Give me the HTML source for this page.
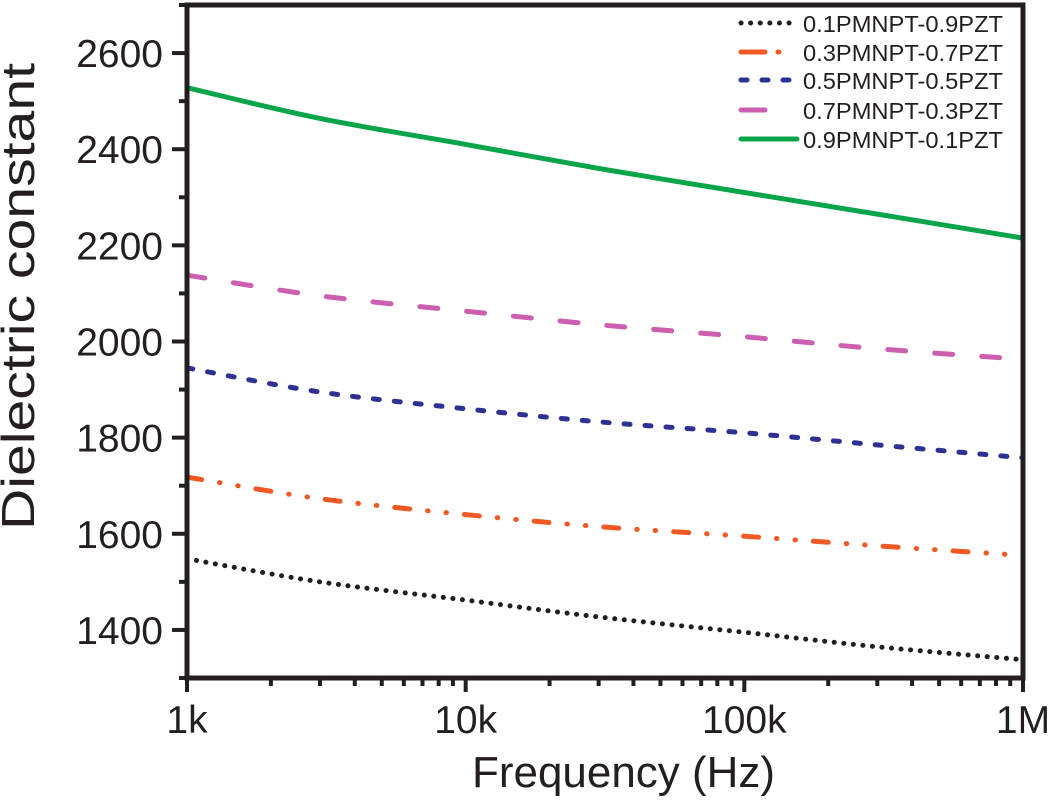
<!DOCTYPE html>
<html><head><meta charset="utf-8"><style>
body{margin:0;background:#fff;}
svg{display:block;font-family:"Liberation Sans",Arial,sans-serif;}
</style></head><body>
<svg id="chart" width="1050" height="803"></svg>
<script>
const freqs=[1e3,3e3,1e4,3e4,1e5,3e5,1e6];
const seriesNames=["0.1PMNPT-0.9PZT","0.3PMNPT-0.7PZT","0.5PMNPT-0.5PZT","0.7PMNPT-0.3PZT","0.9PMNPT-0.1PZT"];
const s01=[1548,1500,1462,1427,1395,1365,1338];
const s03=[1718,1673,1640,1615,1595,1575,1555];
const s05=[1945,1895,1860,1833,1810,1785,1758];
const s07=[2138,2095,2063,2035,2010,1985,1963];
const s09=[2528,2464,2410,2360,2310,2265,2215];
const yTicks=[1400,1600,1800,2000,2200,2400,2600];
const xTicks=[1e3,1e4,1e5,1e6];
const xTickLabels=["1k","10k","100k","1M"];

const NS="http://www.w3.org/2000/svg";
const svg=document.getElementById('chart');
const L=187,R=1023,T=5,B=678,yMin=1300,yMax=2700;
const xs=v=>L+(Math.log10(v)-3)/3*(R-L);
const ys=v=>B-(v-yMin)/(yMax-yMin)*(B-T);
function mk(tag,attrs,parent){const e=document.createElementNS(NS,tag);for(const k in attrs)e.setAttribute(k,attrs[k]);(parent||svg).appendChild(e);return e;}

const styles=[
 {c:"#231f20",d:"0.1 9.5"},
 {c:"#f15a24",d:"15 18 0.5 18 0.5 18"},
 {c:"#2e3192",d:"6 15"},
 {c:"#cc5fb0",d:"18 29"},
 {c:"#0aa54b",d:""}];
const all=[s01,s03,s05,s07,s09];

// series
all.forEach((s,i)=>{
  const st=styles[i];
  const P=freqs.map((f,j)=>[xs(f),ys(s[j])]);
  let d='M'+P[0][0].toFixed(1)+','+P[0][1].toFixed(1);
  for(let k=0;k<P.length-1;k++){
    const p0=P[Math.max(k-1,0)],p1=P[k],p2=P[k+1],p3=P[Math.min(k+2,P.length-1)];
    const c1=[p1[0]+(p2[0]-p0[0])/6,p1[1]+(p2[1]-p0[1])/6];
    const c2=[p2[0]-(p3[0]-p1[0])/6,p2[1]-(p3[1]-p1[1])/6];
    d+=' C'+c1[0].toFixed(1)+','+c1[1].toFixed(1)+' '+c2[0].toFixed(1)+','+c2[1].toFixed(1)+' '+p2[0].toFixed(1)+','+p2[1].toFixed(1);
  }
  const p=mk('path',{d:d,fill:'none',stroke:st.c,'stroke-width':5,'stroke-dasharray':st.d,'stroke-linecap':'round','stroke-linejoin':'round'});
  
});

// frame
const fr=mk('rect',{x:L,y:T,width:R-L,height:B-T,fill:'none',stroke:'#231f20','stroke-width':5});


// y ticks
for(let v=1300;v<=2700;v+=100){
  const y=ys(v),maj=yTicks.includes(v);
  const t=mk('line',{x1:L-(maj?15:8),x2:L,y1:y,y2:y,stroke:'#231f20','stroke-width':4});
  
}
yTicks.forEach(v=>{
  const t=mk('text',{x:L-24,y:ys(v)+14,'text-anchor':'end','font-size':39,fill:'#231f20'});
  t.textContent=v;
  
});
// x ticks
for(let d=3;d<6;d++)for(let m=1;m<=9;m++){
  const v=m*Math.pow(10,d),x=xs(v),maj=m===1;
  const t=mk('line',{x1:x,x2:x,y1:B,y2:B+(maj?14:8),stroke:'#231f20','stroke-width':4});
  
}
{const t=mk('line',{x1:R,x2:R,y1:B,y2:B+14,stroke:'#231f20','stroke-width':4});}
xTicks.forEach((v,i)=>{
  const t=mk('text',{x:xs(v),y:733,'text-anchor':'middle','font-size':39,fill:'#231f20'});
  t.textContent=xTickLabels[i];
  
});
// titles
{const t=mk('text',{x:472,y:787,'font-size':44,fill:'#231f20',textLength:303,lengthAdjust:'spacingAndGlyphs'});t.textContent='Frequency (Hz)';}
{const t=mk('text',{x:0,y:0,'font-size':46,fill:'#231f20',textLength:467,lengthAdjust:'spacingAndGlyphs',transform:'translate(34,530) rotate(-90)'});t.textContent='Dielectric constant';}

// legend
const legSeg=[[[741,790]],[[741,765],[778,779]],[[741,796]],[[741,765]],[[741,797]]];
const legDash=["0.1 9.5","","6 15","",""];
seriesNames.forEach((n,i)=>{
  const st=styles[i],y=[23,52,80,110,139][i];
  legSeg[i].forEach(sg=>{
    const l=mk('line',{x1:sg[0],x2:sg[1],y1:y,y2:y,stroke:st.c,'stroke-width':5,'stroke-dasharray':legDash[i],'stroke-linecap':'round'});
    
  });
  const t=mk('text',{x:803,y:y+9,'font-size':23,fill:'#231f20',textLength:200,lengthAdjust:'spacingAndGlyphs'});t.textContent=n;
  
});
</script>
</body></html>
